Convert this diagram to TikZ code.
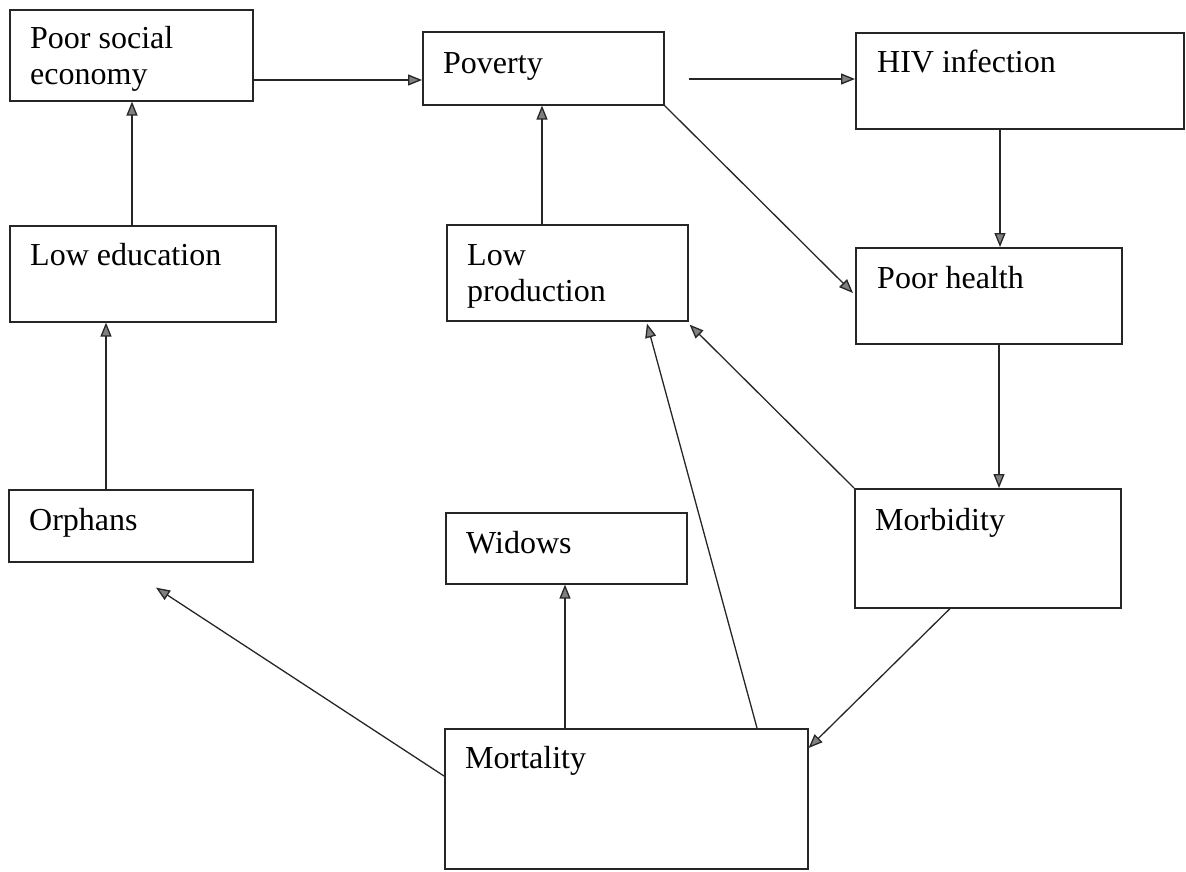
\documentclass[tikz,border=0pt]{standalone}
\usepackage{fontspec}
\setmainfont{Liberation Serif}
\usetikzlibrary{arrows.meta,calc}
\tikzset{
  box/.style={draw=black!85, line width=1.6pt, rectangle, inner sep=0pt, anchor=north west},
  txt/.style={inner sep=0pt, anchor=north west, align=left, font=\fontsize{32}{36}\selectfont},
  arr/.style={draw=black!85, line width=1.3pt, -{Triangle[length=14pt,width=11pt,fill=black!50]}}
}
\begin{document}
\begin{tikzpicture}[x=1pt,y=-1pt]
\useasboundingbox (0,0) rectangle (1186,871);
% boxes
\node[box, minimum width=243pt, minimum height=91pt]  (pse)    at (9,9) {};
\node[box, minimum width=241pt, minimum height=73pt]  (pov)    at (422,31) {};
\node[box, minimum width=328pt, minimum height=96pt]  (hiv)    at (855,32) {};
\node[box, minimum width=266pt, minimum height=96pt]  (lowed)  at (9,225) {};
\node[box, minimum width=241pt, minimum height=96pt]  (lp)     at (446,224) {};
\node[box, minimum width=266pt, minimum height=96pt]  (ph)     at (855,247) {};
\node[box, minimum width=244pt, minimum height=72pt]  (orph)   at (8,489) {};
\node[box, minimum width=241pt, minimum height=71pt]  (wid)    at (445,512) {};
\node[box, minimum width=266pt, minimum height=119pt] (morb)   at (854,488) {};
\node[box, minimum width=363pt, minimum height=140pt] (mort)   at (444,728) {};
% texts (baseline - 25.2)
\node[txt] (tpse)   at (30,22.8)  {\strut Poor social\\\strut economy};
\node[txt] (tpov)   at (443,47.8) {\strut Poverty};
\node[txt] (thiv)   at (877,46.8) {\strut HIV infection};
\node[txt] (tlowed) at (30,239.8) {\strut Low education};
\node[txt] (tlp)    at (467,239.8) {\strut Low\\\strut production};
\node[txt] (tph)    at (877,262.8) {\strut Poor health};
\node[txt] (torph)  at (29,504.8) {\strut Orphans};
\node[txt] (twid)   at (466,527.8) {\strut Widows};
\node[txt] (tmorb)  at (875,504.8) {\strut Morbidity};
\node[txt] (tmort)  at (465,742.8) {\strut Mortality};
% connectors
\draw[arr] ($(pse.north east)+(0,71)$) coordinate (a1) -- (a1 -| pov.west);
\draw[arr] ($(pov.north east)+(24,48)$) coordinate (a2) -- (a2 -| hiv.west);
\draw[arr] (pov.south east) -- ($(ph.north west)+(-2,46)$);
\draw[arr] ($(hiv.south west)+(145,0)$) coordinate (a4) -- (a4 |- ph.north);
\draw[arr] ($(ph.south west)+(144,0)$) coordinate (a5) -- (a5 |- morb.north);
\draw[arr] (morb.north west) -- ($(lp.south east)+(1,3)$);
\draw[arr] ($(morb.south west)+(96,0)$) -- ($(mort.north east)+(0,20)$);
\draw[arr] ($(lp.north west)+(96,0)$) coordinate (a8) -- (a8 |- pov.south);
\draw[arr] ($(mort.north west)+(313,0)$) -- ($(lp.south west)+(201,2)$);
\draw[arr] ($(mort.north west)+(121,0)$) coordinate (a10) -- (a10 |- wid.south);
\draw[arr] ($(mort.north west)+(0,48)$) -- ($(orph.south west)+(148,25)$);
\draw[arr] ($(lowed.north west)+(123,0)$) coordinate (a12) -- (a12 |- pse.south);
\draw[arr] ($(orph.north west)+(98,0)$) coordinate (a13) -- (a13 |- lowed.south);
\end{tikzpicture}
\end{document}
